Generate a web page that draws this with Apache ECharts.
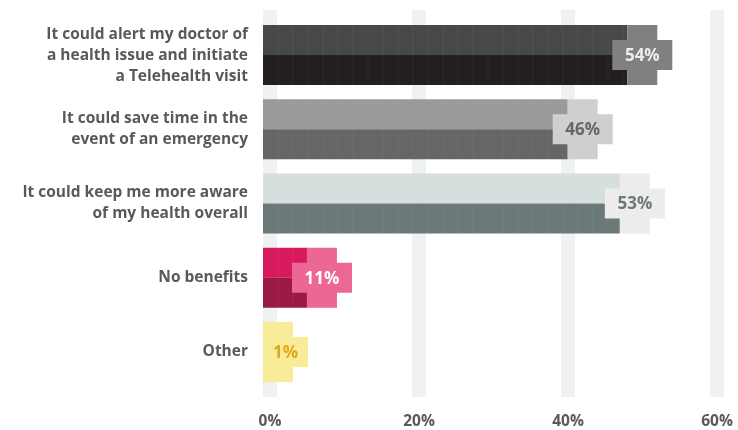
<!DOCTYPE html>
<html>
<head>
<meta charset="utf-8">
<title>Benefits of remote health monitoring</title>
<script src="https://cdn.jsdelivr.net/npm/echarts@6/dist/echarts.min.js"></script>
<style>
  html, body { margin: 0; padding: 0; background: #ffffff; }
  #chart { width: 738px; height: 430px; }
</style>
</head>
<body>
<div id="chart"></div>
<script>
// Survey answers and their shares (%)
const categories = [
  'It could alert my doctor of\na health issue and initiate\na Telehealth visit',
  'It could save time in the\nevent of an emergency',
  'It could keep me more aware\nof my health overall',
  'No benefits',
  'Other'
];
const values = [54, 46, 53, 11, 1];
const tickValues = [0, 20, 40, 60];

// Palette per answer: upper half, lower half, end block, label text
const upperColors = ['#464948', '#9a9a98', '#d5dfdd', '#d71a5e', '#f9ec98'];
const lowerColors = ['#231f20', '#666666', '#6b7a78', '#9a1945', '#f9ec98'];
const blockColors = ['#808080', '#cfcfd1', '#ececec', '#ec6696', '#f9ec98'];
const labelColors = ['#ececec', '#666666', '#6b7a78', '#ffffff', '#e2a621'];

const TEXT = '#58595b';
const FONT = '"Open Sans", Inter, sans-serif';

const chart = echarts.init(document.getElementById('chart'), null, { renderer: 'canvas' });

// Pixel-style bar: two-tone body ending in a plus-shaped value block
function renderBar(params, api) {
  const idx = params.dataIndex;
  const v = api.value(0);
  const end = api.coord([v, idx]);
  const origin = api.coord([0, idx]);
  const band = api.size([0, 1])[1];
  const h = Math.round(band * 0.81);
  const u = h / 4;
  const x0 = origin[0] - 7;
  const yc = end[1];
  const right = Math.max(end[0], x0 + 3 * u);
  const bodyEnd = right - 3 * u;
  const midLeft = Math.max(x0, right - 4 * u);
  const children = [];
  if (bodyEnd > x0) {
    children.push({
      type: 'rect',
      shape: { x: x0, y: yc - 2 * u, width: bodyEnd - x0, height: 2 * u },
      style: { fill: upperColors[idx] }
    });
    children.push({
      type: 'rect',
      shape: { x: x0, y: yc, width: bodyEnd - x0, height: 2 * u },
      style: { fill: lowerColors[idx] }
    });
    // faint pixel grid inside the body
    for (let gx = x0 + u; gx < bodyEnd; gx += u) {
      children.push({
        type: 'line',
        shape: { x1: gx, y1: yc - 2 * u, x2: gx, y2: yc + 2 * u },
        style: { stroke: 'rgba(255,255,255,0.05)', lineWidth: 1 }
      });
    }
  }
  children.push({
    type: 'polygon',
    shape: {
      points: [
        [right - 3 * u, yc - 2 * u], [right - u, yc - 2 * u],
        [right - u, yc - u], [right, yc - u],
        [right, yc + u], [right - u, yc + u],
        [right - u, yc + 2 * u], [right - 3 * u, yc + 2 * u],
        [right - 3 * u, yc + u], [midLeft, yc + u],
        [midLeft, yc - u], [right - 3 * u, yc - u]
      ]
    },
    style: { fill: blockColors[idx] }
  });
  children.push({
    type: 'text',
    style: {
      x: (midLeft + right) / 2,
      y: yc + 1,
      text: v + '%',
      fill: labelColors[idx],
      font: '700 17px ' + FONT,
      align: 'center',
      verticalAlign: 'middle'
    }
  });
  return { type: 'group', children: children };
}

// Wide pale column behind each tick
function renderGuide(params, api) {
  const cs = params.coordSys;
  const x = api.coord([api.value(0), 0])[0];
  return {
    type: 'rect',
    shape: { x: x - 7, y: cs.y - 8, width: 14, height: cs.height + 16 },
    style: { fill: '#f0f1f3' }
  };
}

chart.setOption({
  animation: false,
  backgroundColor: '#ffffff',
  grid: { left: 270, right: 21, top: 18, bottom: 40, containLabel: false },
  xAxis: {
    type: 'value',
    min: 0,
    max: 60,
    interval: 20,
    axisLine: { show: false },
    axisTick: { show: false },
    splitLine: { show: false },
    axisLabel: {
      formatter: '{value}%',
      color: TEXT,
      fontFamily: FONT,
      fontWeight: 700,
      fontSize: 15.5,
      margin: 25
    }
  },
  yAxis: {
    type: 'category',
    inverse: true,
    data: categories,
    axisLine: { show: false },
    axisTick: { show: false },
    axisLabel: {
      color: TEXT,
      fontFamily: FONT,
      fontWeight: 700,
      fontSize: 15.5,
      lineHeight: 21,
      align: 'right',
      margin: 22
    }
  },
  series: [
    {
      type: 'custom',
      clip: false,
      z: 1,
      silent: true,
      data: tickValues.map(t => [t, 0]),
      renderItem: renderGuide
    },
    {
      type: 'custom',
      clip: false,
      z: 2,
      data: values.map((v, i) => [v, i]),
      renderItem: renderBar
    }
  ]
});
</script>
</body>
</html>
